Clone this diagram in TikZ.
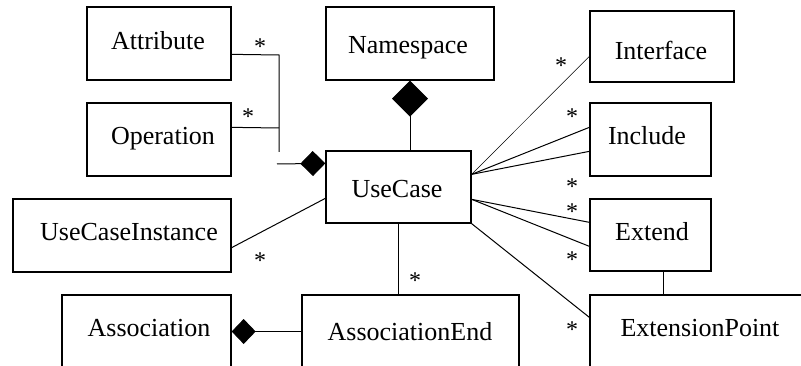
\documentclass[tikz,border=0pt]{standalone}
\usepackage{fontspec}
\setmainfont{Liberation Serif}
\usetikzlibrary{arrows.meta,calc}
\begin{document}
\begin{tikzpicture}[x=1pt,y=-1pt,
  box/.style={draw,line width=1.3pt,inner sep=0pt},
  lbl/.style={font=\rmfamily\fontsize{26}{30}\selectfont,inner sep=0pt,anchor=base},
  conn/.style={line width=1pt},
  thinconn/.style={line width=0.5pt},
  mult/.style={font=\rmfamily\fontsize{24}{28}\selectfont,inner sep=0pt,anchor=north}]
\useasboundingbox (0,0) rectangle (801,366);
\clip (0,0) rectangle (801,366);
% boxes
\node[box,minimum width=144pt,minimum height=73pt] (attr)  at (159,43.5)   {};
\node[box,minimum width=144pt,minimum height=73pt] (oper)  at (159,139.5)  {};
\node[box,minimum width=168pt,minimum height=73pt] (ns)    at (410,43.5)   {};
\node[box,minimum width=144pt,minimum height=71pt] (intf)  at (662,46.5)   {};
\node[box,minimum width=121pt,minimum height=73pt] (incl)  at (650.5,139.5){};
\node[box,minimum width=145pt,minimum height=72pt] (uc)    at (398.5,187)  {};
\node[box,minimum width=218pt,minimum height=73pt] (uci)   at (122,235.5)  {};
\node[box,minimum width=121pt,minimum height=72pt] (ext)   at (650.5,235)  {};
\node[box,minimum width=169pt,minimum height=73pt] (assoc) at (146.5,331.5){};
\node[box,minimum width=217pt,minimum height=73pt] (ae)    at (410.5,331.5){};
\node[box,minimum width=220pt,minimum height=73pt] (ep)    at (700,331.5)  {};
% box texts
\node[lbl] (tattr)  at (158,49.5)  {Attribute};
\node[lbl] (toper)  at (163,145)   {Operation};
\node[lbl] (tns)    at (408,53.5)  {Namespace};
\node[lbl] (tintf)  at (661,60)    {Interface};
\node[lbl] (tincl)  at (647,145)   {Include};
\node[lbl] (tuc)    at (397,197.5) {UseCase};
\node[lbl] (tuci)   at (129,241)   {UseCaseInstance};
\node[lbl] (text)   at (652,241)   {Extend};
\node[lbl] (tassoc) at (149,337)   {Association};
\node[lbl] (tae)    at (410,341)   {AssociationEnd};
\node[lbl] (tep)    at (700,337)   {ExtensionPoint};
% helper coordinates
\coordinate (a1) at ($(attr.north east)+(0,48)$);
\coordinate (o1) at ($(oper.north east)+(0,25)$);
\coordinate (j1) at (279,55);
\coordinate (j2) at (279,152);
\coordinate (j3) at (279,128);
\coordinate (c1) at (277,164);
\coordinate (ucw) at ($(uc.north west)+(0,13)$);
\coordinate (ur) at ($(uc.north east)+(0,24)$);
\coordinate (lr) at ($(uc.north east)+(0,49)$);
\coordinate (i1) at ($(intf.north west)+(0,46)$);
\coordinate (n1) at ($(incl.north west)+(0,25)$);
\coordinate (n2) at ($(incl.north west)+(0,49)$);
\coordinate (x1) at ($(ext.north west)+(0,24)$);
\coordinate (x2) at ($(ext.north west)+(0,48)$);
\coordinate (p1) at ($(ep.north west)+(0,23)$);
\coordinate (e1) at ($(ext.south)+(12.5,0)$);
\coordinate (u1) at ($(uci.south east)+(0,-25)$);
\coordinate (u2) at ($(uc.north west)+(0,48)$);
% connectors
\draw[conn] (a1) -- (j1) -- (j2);
\draw[conn] (o1) -- (j3);
\draw[conn,-{Diamond[length=25pt,width=25pt]}] (c1) -- (ucw);
\draw[conn,{Diamond[length=36pt,width=36pt]}-] (ns.south) -- (ns.south |- uc.north);
\draw[conn,-{Diamond[length=24pt,width=25pt]}] (ae.west) -- (assoc.east);
\draw[conn] (uc.south) -- (uc.south |- ae.north);
\draw[conn] (u1) -- (u2);
\draw[thinconn] (ur) -- (i1);
\draw[conn] (ur) -- (n1);
\draw[conn] (ur) -- (n2);
\draw[conn] (lr) -- (x1);
\draw[conn] (lr) -- (x2);
\draw[conn] (uc.south east) -- (p1);
\draw[conn] (e1) -- (e1 |- ep.north);
% multiplicities
\node[mult] (m1)  at (260,39)  {*};
\node[mult] (m2)  at (248,109) {*};
\node[mult] (m3)  at (561,58)  {*};
\node[mult] (m4)  at (572,109) {*};
\node[mult] (m5)  at (572,179) {*};
\node[mult] (m6)  at (572,204) {*};
\node[mult] (m7)  at (572,252) {*};
\node[mult] (m8)  at (260,253) {*};
\node[mult] (m9)  at (415,273) {*};
\node[mult] (m10) at (572,322) {*};
\end{tikzpicture}
\end{document}
